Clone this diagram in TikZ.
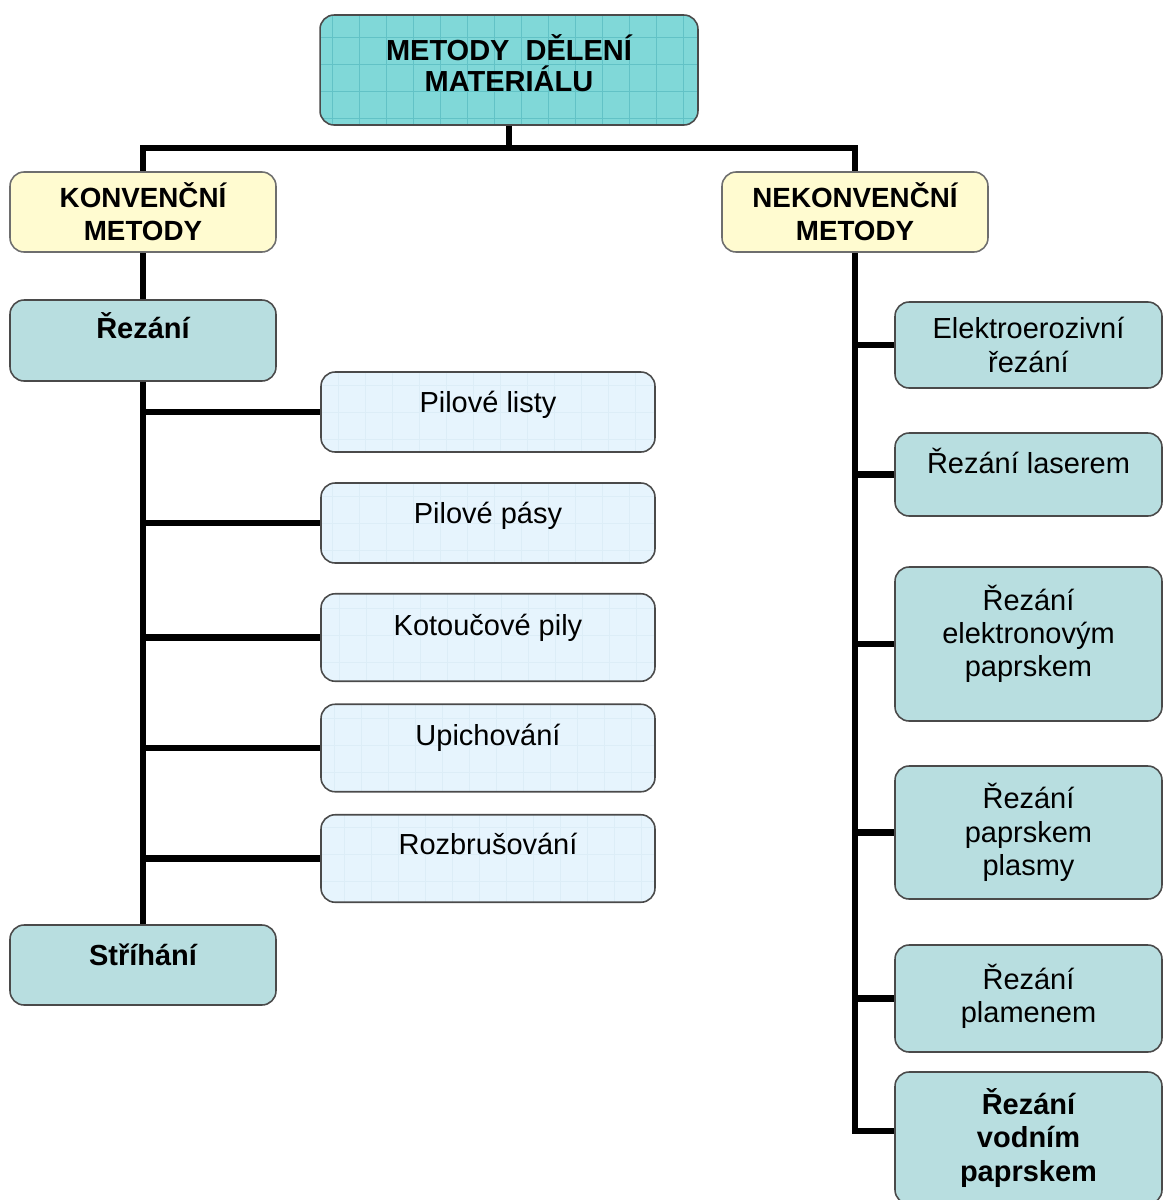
\documentclass[tikz,border=0pt]{standalone}
\usepackage{fontspec}
\setmainfont{Liberation Sans}
\usetikzlibrary{backgrounds}
\definecolor{topfill}{HTML}{80D8D8}
\definecolor{topgrid}{HTML}{62C2C6}
\definecolor{yellowfill}{HTML}{FFFBD0}
\definecolor{tealfill}{HTML}{B8DEE0}
\definecolor{bluefill}{HTML}{E6F4FD}
\definecolor{bluegrid}{HTML}{DCEDF7}
\definecolor{edge}{HTML}{4A4A4A}

\begin{document}
\begin{tikzpicture}[x=0.02cm,y=-0.02cm,
  font=\fontsize{16.5}{19}\selectfont,
  box/.style={draw=edge,line width=0.9pt,rounded corners=8pt,align=center,inner sep=0pt},
  gridded/.style={path picture={\draw[#1,line width=0.5pt]
      ([shift={(-0.3cm,-0.3cm)}]path picture bounding box.south west) grid[step=0.54cm]
      (path picture bounding box.north east);}},
  headbox/.style={box,fill=topfill,gridded=topgrid,font=\fontsize{16.5}{18}\selectfont\bfseries,
      minimum width=7.56cm,minimum height=2.2cm},
  groupbox/.style={box,fill=yellowfill,draw=edge!80,font=\fontsize{15.8}{19}\selectfont\bfseries,
      minimum width=5.32cm,minimum height=1.6cm},
  tealbox/.style={box,fill=tealfill,minimum width=5.32cm,minimum height=1.62cm},
  sawbox/.style={box,fill=bluefill,gridded=bluegrid,minimum width=6.68cm,minimum height=#1},
  cutbox/.style={box,fill=tealfill,minimum width=5.34cm,minimum height=#1},
  lift/.style={text height=12pt,text depth=#1},
  strong/.style={font=\fontsize{16.5}{19}\selectfont\bfseries},
  trunk/.style={line width=3.6pt,black}]
\useasboundingbox (0,0) rectangle (1165,1200);

% top
\node[headbox,text depth=8pt] (metody) at (509,70) {METODY\ \ DĚLENÍ\\MATERIÁLU};
\coordinate (split) at (509,148);
\node[groupbox] (konv) at (143,212) {KONVENČNÍ\\METODY};
\node[groupbox] (nekonv) at (855,212) {NEKONVENČNÍ\\METODY};

% conventional
\node[tealbox,strong,lift=14pt] (rezani) at (143,340.5) {Řezání};
\node[sawbox=1.6cm,lift=11pt] (listy) at (488,412) {Pilové listy};
\node[sawbox=1.6cm,lift=11pt] (pasy) at (488,523) {Pilové pásy};
\node[sawbox=1.75cm,lift=14pt] (kotouc) at (488,637.5) {Kotoučové pily};
\node[sawbox=1.75cm,lift=15pt] (upich) at (488,748) {Upichování};
\node[sawbox=1.75cm,lift=17pt] (rozbr) at (488,858.5) {Rozbrušování};
\node[tealbox,strong,lift=11pt,minimum height=1.6cm] (strihani) at (143,965) {Stříhání};

% nonconventional
\node[cutbox=1.72cm] (eroze) at (1028.5,345) {Elektroerozivní\\řezání};
\node[cutbox=1.66cm,lift=13pt] (laser) at (1028.5,474.5) {Řezání laserem};
\node[cutbox=3.08cm,text depth=15pt] (elektron) at (1028.5,644) {Řezání\\elektronovým\\paprskem};
\node[cutbox=2.66cm] (plasma) at (1028.5,832.5) {Řezání\\paprskem\\plasmy};
\node[cutbox=2.14cm,text depth=6pt] (plamen) at (1028.5,998.5) {Řezání\\plamenem};
\node[cutbox=2.64cm,strong] (vodni) at (1028.5,1138) {Řezání\\vodním\\paprskem};

\begin{scope}[on background layer]
\draw[trunk] (metody.south) -- (split);
\draw[trunk] (konv.north) |- (split) -| (nekonv.north);
\draw[trunk] (konv.south) -- (strihani.north);
\foreach \n in {listy,pasy,kotouc,upich,rozbr}
  \draw[trunk] (\n.west) -- (konv.south |- \n.west);
\draw[trunk] (nekonv.south) |- ([yshift=4pt]vodni.west);
\foreach \n in {eroze,laser,elektron,plasma,plamen}
  \draw[trunk] (\n.west) -- (nekonv.south |- \n.west);
\end{scope}
\end{tikzpicture}
\end{document}
